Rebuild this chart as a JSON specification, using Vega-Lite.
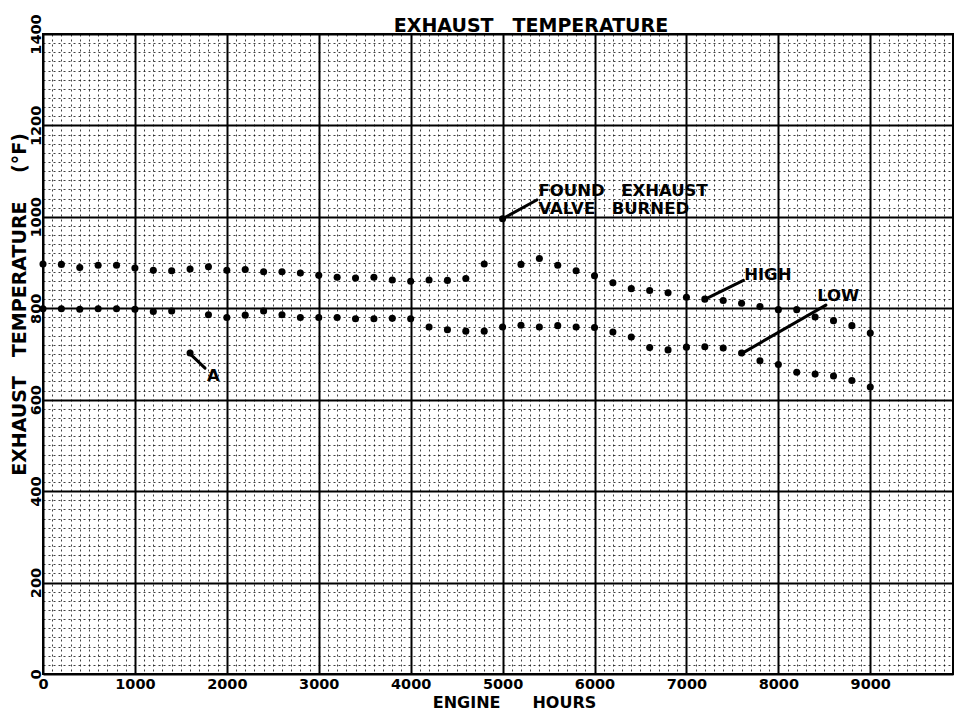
{
  "$schema": "https://vega.github.io/schema/vega-lite/v6.json",
  "width": 910,
  "height": 640,
  "autosize": {"type": "none"},
  "padding": {"left": 43, "top": 34, "right": 1, "bottom": 37},
  "background": "white",
  "title": {"text": "EXHAUST\u2003TEMPERATURE", "font": "DejaVu Sans", "fontSize": 19, "fontWeight": "bold", "color": "black", "anchor": "middle", "dx": 33, "dy": 39, "offset": 2, "baseline": "alphabetic"},
  "datasets": {
    "temps": [
      {"hours": 0, "temp": 897, "series": "high"}, {"hours": 200, "temp": 896, "series": "high"}, {"hours": 400, "temp": 889, "series": "high"}, {"hours": 600, "temp": 894, "series": "high"}, {"hours": 800, "temp": 894, "series": "high"}, {"hours": 1000, "temp": 888, "series": "high"}, {"hours": 1200, "temp": 883, "series": "high"}, {"hours": 1400, "temp": 882, "series": "high"}, {"hours": 1600, "temp": 886, "series": "high"}, {"hours": 1800, "temp": 891, "series": "high"}, {"hours": 2000, "temp": 883, "series": "high"}, {"hours": 2200, "temp": 885, "series": "high"}, {"hours": 2400, "temp": 880, "series": "high"}, {"hours": 2600, "temp": 880, "series": "high"}, {"hours": 2800, "temp": 877, "series": "high"}, {"hours": 3000, "temp": 872, "series": "high"}, {"hours": 3200, "temp": 868, "series": "high"}, {"hours": 3400, "temp": 866, "series": "high"}, {"hours": 3600, "temp": 868, "series": "high"}, {"hours": 3800, "temp": 862, "series": "high"}, {"hours": 4000, "temp": 859, "series": "high"}, {"hours": 4200, "temp": 862, "series": "high"}, {"hours": 4400, "temp": 861, "series": "high"}, {"hours": 4600, "temp": 865, "series": "high"}, {"hours": 4800, "temp": 897, "series": "high"}, {"hours": 5000, "temp": 996, "series": "high"}, {"hours": 5200, "temp": 896, "series": "high"}, {"hours": 5400, "temp": 909, "series": "high"}, {"hours": 5600, "temp": 894, "series": "high"}, {"hours": 5800, "temp": 882, "series": "high"}, {"hours": 6000, "temp": 871, "series": "high"}, {"hours": 6200, "temp": 856, "series": "high"}, {"hours": 6400, "temp": 843, "series": "high"}, {"hours": 6600, "temp": 839, "series": "high"}, {"hours": 6800, "temp": 834, "series": "high"}, {"hours": 7000, "temp": 824, "series": "high"}, {"hours": 7200, "temp": 820, "series": "high"}, {"hours": 7400, "temp": 817, "series": "high"}, {"hours": 7600, "temp": 811, "series": "high"}, {"hours": 7800, "temp": 804, "series": "high"}, {"hours": 8000, "temp": 797, "series": "high"}, {"hours": 8200, "temp": 797, "series": "high"}, {"hours": 8400, "temp": 781, "series": "high"}, {"hours": 8600, "temp": 773, "series": "high"}, {"hours": 8800, "temp": 762, "series": "high"}, {"hours": 9000, "temp": 746, "series": "high"},
      {"hours": 0, "temp": 799, "series": "low"}, {"hours": 200, "temp": 799, "series": "low"}, {"hours": 400, "temp": 798, "series": "low"}, {"hours": 600, "temp": 799, "series": "low"}, {"hours": 800, "temp": 799, "series": "low"}, {"hours": 1000, "temp": 798, "series": "low"}, {"hours": 1200, "temp": 793, "series": "low"}, {"hours": 1400, "temp": 794, "series": "low"}, {"hours": 1600, "temp": 702, "series": "low"}, {"hours": 1800, "temp": 786, "series": "low"}, {"hours": 2000, "temp": 780, "series": "low"}, {"hours": 2200, "temp": 785, "series": "low"}, {"hours": 2400, "temp": 794, "series": "low"}, {"hours": 2600, "temp": 786, "series": "low"}, {"hours": 2800, "temp": 780, "series": "low"}, {"hours": 3000, "temp": 780, "series": "low"}, {"hours": 3200, "temp": 780, "series": "low"}, {"hours": 3400, "temp": 777, "series": "low"}, {"hours": 3600, "temp": 777, "series": "low"}, {"hours": 3800, "temp": 778, "series": "low"}, {"hours": 4000, "temp": 777, "series": "low"}, {"hours": 4200, "temp": 759, "series": "low"}, {"hours": 4400, "temp": 753, "series": "low"}, {"hours": 4600, "temp": 750, "series": "low"}, {"hours": 4800, "temp": 750, "series": "low"}, {"hours": 5000, "temp": 759, "series": "low"}, {"hours": 5200, "temp": 763, "series": "low"}, {"hours": 5400, "temp": 759, "series": "low"}, {"hours": 5600, "temp": 762, "series": "low"}, {"hours": 5800, "temp": 759, "series": "low"}, {"hours": 6000, "temp": 758, "series": "low"}, {"hours": 6200, "temp": 748, "series": "low"}, {"hours": 6400, "temp": 737, "series": "low"}, {"hours": 6600, "temp": 714, "series": "low"}, {"hours": 6800, "temp": 709, "series": "low"}, {"hours": 7000, "temp": 715, "series": "low"}, {"hours": 7200, "temp": 716, "series": "low"}, {"hours": 7400, "temp": 713, "series": "low"}, {"hours": 7600, "temp": 702, "series": "low"}, {"hours": 7800, "temp": 685, "series": "low"}, {"hours": 8000, "temp": 677, "series": "low"}, {"hours": 8200, "temp": 660, "series": "low"}, {"hours": 8400, "temp": 656, "series": "low"}, {"hours": 8600, "temp": 652, "series": "low"}, {"hours": 8800, "temp": 642, "series": "low"}, {"hours": 9000, "temp": 628, "series": "low"}
    ],
    "arrows": [
      {"h1": 5009, "t1": 997, "h2": 5372, "t2": 1037},
      {"h1": 7205, "t1": 820, "h2": 7620, "t2": 861},
      {"h1": 7609, "t1": 702, "h2": 8517, "t2": 807},
      {"h1": 1592, "t1": 702, "h2": 1763, "t2": 669}
    ],
    "notes": [
      {"hours": 5390, "temp": 1057, "label": "FOUND\u2003EXHAUST"},
      {"hours": 5390, "temp": 1017, "label": "VALVE\u2003BURNED"},
      {"hours": 7628, "temp": 873, "label": "HIGH"},
      {"hours": 8422, "temp": 826, "label": "LOW"},
      {"hours": 1785, "temp": 652, "label": "A"}
    ]
  },
  "layer": [
    {
      "data": {"name": "temps"},
      "mark": {"type": "point", "filled": true, "color": "black", "size": 50, "opacity": 1},
      "encoding": {
        "x": {"field": "hours", "type": "quantitative", "scale": {"domain": [0, 9900], "nice": false},
          "axis": {"orient": "bottom", "tickCount": 99, "grid": true, "gridColor": "black", "gridWidth": 1, "gridDash": [2, 3], "gridOpacity": 0.75, "labels": false, "ticks": false, "domain": false, "title": null}},
        "y": {"field": "temp", "type": "quantitative", "scale": {"domain": [0, 1400], "nice": false},
          "axis": {"orient": "left", "tickCount": 70, "grid": true, "gridColor": "black", "gridWidth": 1, "gridDash": [2, 3], "gridOpacity": 0.75, "labels": false, "ticks": false, "domain": false, "title": null}}
      }
    },
    {
      "data": {"name": "arrows"},
      "mark": {"type": "rule", "color": "black", "strokeWidth": 3, "strokeCap": "round"},
      "encoding": {
        "x": {"field": "h1", "type": "quantitative", "scale": {"domain": [0, 9900], "nice": false},
          "axis": {"orient": "bottom", "values": [0, 1000, 2000, 3000, 4000, 5000, 6000, 7000, 8000, 9000], "format": "d", "grid": true, "gridColor": "black", "gridWidth": 2, "gridOpacity": 1, "ticks": false, "domain": false,
            "labelFont": "DejaVu Sans", "labelFontSize": 14.5, "labelFontWeight": "bold", "labelColor": "black", "labelPadding": 3, "labelFlush": false, "labelOverlap": false,
            "title": "ENGINE\u2003\u2003HOURS", "titleFont": "DejaVu Sans", "titleFontSize": 16, "titleFontWeight": "bold", "titleColor": "black", "titleX": 471, "titleY": 33, "titleAlign": "center", "titleBaseline": "alphabetic"}},
        "x2": {"field": "h2"},
        "y": {"field": "t1", "type": "quantitative", "scale": {"domain": [0, 1400], "nice": false},
          "axis": {"orient": "left", "values": [0, 200, 400, 600, 800, 1000, 1200, 1400], "format": "d", "grid": true, "gridColor": "black", "gridWidth": 2, "gridOpacity": 1, "ticks": false, "domain": false,
            "labelFont": "DejaVu Sans", "labelFontSize": 14.5, "labelFontWeight": "bold", "labelColor": "black", "labelAngle": 270, "labelAlign": "center", "labelBaseline": "alphabetic", "labelPadding": 3, "labelFlush": false, "labelOverlap": false,
            "title": "EXHAUST\u2003TEMPERATURE\u2003\u2002(°F)", "titleFont": "DejaVu Sans", "titleFontSize": 19, "titleFontWeight": "bold", "titleColor": "black", "titleAngle": 270, "titleX": -18, "titleY": 270, "titleAlign": "center", "titleBaseline": "alphabetic"}},
        "y2": {"field": "t2"}
      }
    },
    {
      "data": {"name": "notes"},
      "mark": {"type": "text", "font": "DejaVu Sans", "fontSize": 16.5, "fontWeight": "bold", "color": "black", "align": "left", "baseline": "middle"},
      "encoding": {
        "x": {"field": "hours", "type": "quantitative", "scale": {"domain": [0, 9900], "nice": false}, "axis": null},
        "y": {"field": "temp", "type": "quantitative", "scale": {"domain": [0, 1400], "nice": false}, "axis": null},
        "text": {"field": "label"}
      }
    }
  ],
  "resolve": {"axis": {"x": "independent", "y": "independent"}},
  "config": {"view": {"stroke": "black", "strokeWidth": 2}, "font": "DejaVu Sans"}
}
